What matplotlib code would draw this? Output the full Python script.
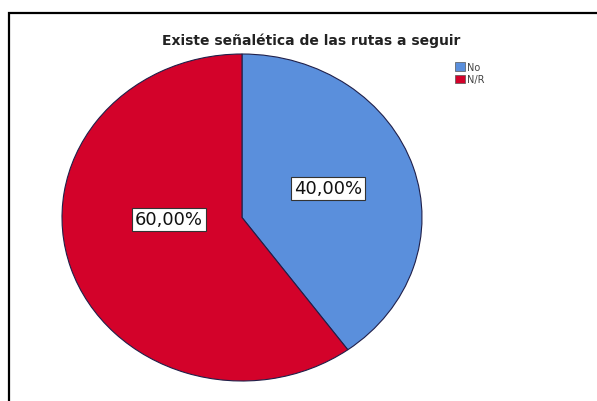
import numpy as np
import matplotlib
matplotlib.use("Agg")
import matplotlib.pyplot as plt
from matplotlib.patches import Rectangle, Patch

# data
categorias = ["No", "N/R"]
porcentajes = [40.0, 60.0]
colores = ["#5a8fdc", "#d3022a"]
titulo = "Existe señalética de las rutas a seguir"

fig = plt.figure(figsize=(5.97, 4.02), dpi=100)

# pie area (slightly wider than tall, like the original)
ax = fig.add_axes([62/597, (402-382)/402, 360/597, 327/402])
wedges, texts, autotexts = ax.pie(porcentajes, colors=colores, startangle=90,
                                  counterclock=False,
                                  autopct=lambda p: ("%.2f%%" % p).replace(".", ","),
                                  pctdistance=0.5,
                                  wedgeprops=dict(edgecolor="#20204a", linewidth=0.8))
ax.set_aspect("auto")
ax.set_xlim(-1, 1)
ax.set_ylim(-1, 1)

# label placement as in the original
pos = [(0.478, 0.178), (-0.406, -0.012)]
for t, p in zip(autotexts, pos):
    t.set_position(p)
    t.set_fontsize(13)
    t.set_color("#111111")
    t.set_bbox(dict(facecolor="white", edgecolor="#333333", linewidth=0.8, pad=2.0))

fig.text(311/597, 1 - 41/402, titulo, ha="center", va="center",
         fontsize=10, fontweight="bold", color="#222222")

handles = [Patch(facecolor=c, edgecolor="#555555", linewidth=0.5) for c in colores]
leg = fig.legend(handles, categorias, loc="upper left",
                 bbox_to_anchor=(450/597, 1 - 58/402), frameon=False,
                 fontsize=7, handlelength=1.0, handleheight=1.0,
                 handletextpad=0.2, labelspacing=0.25, borderpad=0.0)
for t in leg.get_texts():
    t.set_color("#444444")

# outer frame
fig.patches.append(Rectangle((9/597, -0.1), 1.2, (402-14)/402 + 0.1,
                             transform=fig.transFigure, fill=False,
                             edgecolor="black", linewidth=1.6))

plt.savefig("out.png", dpi=100)
